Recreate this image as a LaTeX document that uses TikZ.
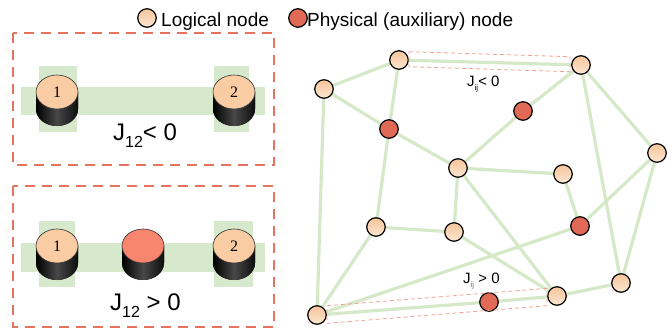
\documentclass[tikz,border=0pt]{standalone}
\usepackage{fontspec}
\setmainfont{Liberation Sans}
\newfontfamily\numfont{Liberation Serif}
\usetikzlibrary{backgrounds}
\definecolor{panelred}{HTML}{E5735E}
\definecolor{thinred}{HTML}{F2A090}
\definecolor{barg}{HTML}{D6E9CC}
\definecolor{edgeg}{HTML}{D5E8C8}
\definecolor{peachtop}{HTML}{F7C59A}
\definecolor{peachbot}{HTML}{FCE6D2}
\definecolor{auxred}{HTML}{E06A55}
\definecolor{cyltop}{HTML}{F9CCA3}
\definecolor{cylred}{HTML}{F8866F}
\tikzset{
  lnode/.style={circle,draw=black,line width=1.2pt,minimum size=18.5pt,inner sep=0pt,top color=peachtop,bottom color=peachbot},
  pnode/.style={circle,draw=black,line width=1.2pt,minimum size=18.5pt,inner sep=0pt,fill=auxred},
  link/.style={draw=edgeg,line width=3.2pt},
  panel/.style={draw=panelred,line width=2.4pt,dash pattern=on 10pt off 7pt},
  edgebox/.style={draw=thinred,line width=0.8pt,dash pattern=on 4pt off 3pt},
  bar/.style={fill=barg,draw=none},
  lbl/.style={inner sep=0pt,anchor=base west},
}
\newcommand\mycyl[5]{% x, y, fill, label, name
  \fill[left color=black,right color=black!95,middle color=black!72] (#1-21,#2) -- (#1-21,#2+17) arc[start angle=180,end angle=0,x radius=21,y radius=17] -- (#1+21,#2) -- cycle;
  \filldraw[fill=#3,draw=black!80,line width=0.6pt] (#1,#2) ellipse[x radius=21,y radius=17];
  \node[inner sep=0pt] (#5) at (#1,#2) {\fontsize{16}{16}\selectfont\numfont #4};
}
\newcommand\jsub[3]{\raisebox{-#3pt}{\fontsize{#1}{#1}\selectfont #2}}
\begin{document}
\begin{tikzpicture}[x=1pt,y=-1pt]
\useasboundingbox (0,0) rectangle (672,330);
% legend
\node[lnode] (legL) at (147,18) {};
\node[lbl] (legLt) at (161,26) {\fontsize{19}{19}\selectfont Logical node};
\node[pnode] (legP) at (298,18) {};
\node[lbl] (legPt) at (307,26) {\fontsize{19}{19}\selectfont Physical (auxiliary) node};
% top panel
\draw[panel] (13,33) rectangle (274,165);
\fill[bar] (21,87) rectangle (265,115);
\fill[bar] (39,66) rectangle (77,132);
\fill[bar] (214,66) rectangle (249,132);
\mycyl{57}{92}{cyltop}{1}{t1}
\mycyl{234}{92}{cyltop}{2}{t2}
\node[lbl] (jneg) at (113,140) {\fontsize{24}{24}\selectfont J\jsub{16}{12}{7}{}< 0};
% bottom panel
\draw[panel] (13,186) rectangle (274,327);
\fill[bar] (21,243) rectangle (265,272);
\fill[bar] (39,221) rectangle (75,287);
\fill[bar] (214,221) rectangle (253,287);
\mycyl{57}{246}{cyltop}{1}{b1}
\mycyl{143}{246}{cylred}{}{b0}
\mycyl{234}{246}{cyltop}{2}{b2}
\node[lbl] (jpos) at (110,310) {\fontsize{24}{24}\selectfont J\jsub{16}{12}{7} > 0};
% network nodes
\node[lnode] (A) at (399,60) {};
\node[lnode] (B) at (581,65) {};
\node[lnode] (C) at (324,89) {};
\node[pnode] (D) at (523,111) {};
\node[pnode] (E) at (389,129) {};
\node[lnode] (F) at (657,153) {};
\node[lnode] (G) at (458,168) {};
\node[lnode] (H) at (563,174) {};
\node[lnode] (I) at (376,227) {};
\node[lnode] (J) at (454,232) {};
\node[pnode] (K) at (580,226) {};
\node[lnode] (L) at (621,283) {};
\node[lnode] (M) at (557,296) {};
\node[pnode] (N) at (489,302) {};
\node[lnode] (O) at (317,315) {};
\begin{pgfonlayer}{background}
\foreach \a/\b in {A/B,A/C,A/E,C/E,C/O,E/G,E/I,G/D,D/B,B/F,B/L,G/H,G/J,G/M,H/K,K/O,F/K,F/L,I/J,I/O,J/M,O/N,N/M,M/L}
  \draw[link] (\a) -- (\b);
\end{pgfonlayer}
% edge boxes
\draw[edgebox] (409,51.7) -- (570,56.7) -- (570,71.7) -- (409,66.7) -- cycle;
\draw[edgebox] (327,305.7) -- (547,288.3) -- (547,305.7) -- (327,323.3) -- cycle;
\node[lbl] (jij1) at (467,86) {\fontsize{15}{15}\selectfont J\jsub{8}{ij}{4}< 0};
\node[lbl] (jij2) at (463,283) {\fontsize{15}{15}\selectfont J\jsub{8}{\textcolor{black!55}{ij}}{4} > 0};
\end{tikzpicture}
\end{document}
